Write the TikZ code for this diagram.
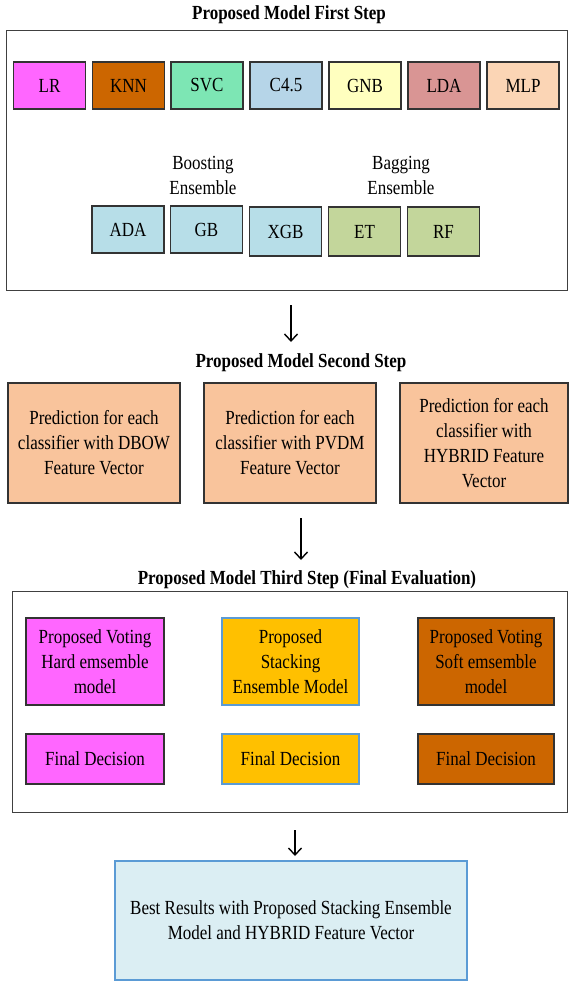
\documentclass[tikz,border=0pt]{standalone}
\usepackage{fontspec}
\setmainfont[FakeStretch=0.85]{Liberation Serif}
\usetikzlibrary{arrows.meta}
\definecolor{cLR}{HTML}{FF66FF}
\definecolor{cKNN}{HTML}{CC6600}
\definecolor{cSVC}{HTML}{7DE6B4}
\definecolor{cCF}{HTML}{B6D5E8}
\definecolor{cGNB}{HTML}{FFFFBF}
\definecolor{cLDA}{HTML}{D99594}
\definecolor{cMLP}{HTML}{FBD5B5}
\definecolor{cBoost}{HTML}{B7DEE8}
\definecolor{cBag}{HTML}{C3D69B}
\definecolor{cPeach}{HTML}{F9C49C}
\definecolor{cStack}{HTML}{FFC000}
\definecolor{cBlueEdge}{HTML}{5B9BD5}
\definecolor{cBest}{HTML}{DBEEF3}
\definecolor{cEdge}{HTML}{333333}
\begin{document}
\begin{tikzpicture}[x=1pt,y=-1pt,
  txt/.style={font=\fontsize{20}{25}\selectfont, align=center, inner sep=0pt},
  ttl/.style={font=\fontsize{20}{25}\selectfont\bfseries, inner sep=0pt},
  clf/.style={txt, draw=cEdge, line width=1.2pt, minimum width=72pt, minimum height=47pt},
  bigbox/.style={txt, draw=cEdge, line width=1.2pt},
  framebox/.style={draw=black!75, line width=1pt, inner sep=0pt},
  flow/.style={line width=1.4pt, -{Straight Barb[length=7pt,width=13pt,line width=1.4pt]}}
]
\useasboundingbox (0,0) rectangle (568,981);
\fill[white] (0,0) rectangle (568,981);

% ---------- First step ----------
\node[ttl] (t1) at (289,15) {Proposed Model First Step};
\node[framebox, minimum width=561pt, minimum height=259pt] (frame1) at (286.5,160.5) {};

\node[clf, fill=cLR]  (lr)  at (49.5,85.5) {LR};
\node[clf, fill=cKNN] (knn) at (128.5,85.5) {KNN};
\node[clf, fill=cSVC] (svc) at (207,85.5) {SVC};
\node[clf, fill=cCF]  (cf)  at (286,85.5) {C4.5};
\node[clf, fill=cGNB] (gnb) at (365,85.5) {GNB};
\node[clf, fill=cLDA] (lda) at (444,85.5) {LDA};
\node[clf, fill=cMLP] (mlp) at (523,85.5) {MLP};

\node[txt] (boost) at (203,175.5) {Boosting\\Ensemble};
\node[txt] (bag)   at (401,175.5) {Bagging\\Ensemble};

\node[clf, fill=cBoost] (ada) at (128,229.5) {ADA};
\node[clf, fill=cBoost] (gb)  at (206.5,229.5) {GB};
\node[clf, fill=cBoost, minimum height=49pt] (xgb) at (285.5,231.5) {XGB};
\node[clf, fill=cBag, minimum height=49pt]   (et)  at (364.5,231.5) {ET};
\node[clf, fill=cBag, minimum height=49pt]   (rf)  at (443.5,231.5) {RF};

% ---------- Arrow 1 ----------
\coordinate (a1s) at (291,305);
\coordinate (a1e) at (291,342);
\draw[flow] (a1s) -- (a1e);

% ---------- Second step ----------
\node[ttl] (t2) at (301,363) {Proposed Model Second Step};
\node[bigbox, fill=cPeach, minimum width=172pt, minimum height=120pt] (dbow) at (94,443)
  {Prediction for each\\classifier with DBOW\\Feature Vector};
\node[bigbox, fill=cPeach, minimum width=172pt, minimum height=120pt] (pvdm) at (290,443)
  {Prediction for each\\classifier with PVDM\\Feature Vector};
\node[bigbox, fill=cPeach, minimum width=168pt, minimum height=120pt] (hyb) at (484,443)
  {Prediction for each\\classifier with\\HYBRID Feature\\Vector};

% ---------- Arrow 2 ----------
\coordinate (a2s) at (301,518);
\coordinate (a2e) at (301,560);
\draw[flow] (a2s) -- (a2e);

% ---------- Third step ----------
\node[ttl] (t3) at (307,580) {Proposed Model Third Step (Final Evaluation)};
\node[framebox, minimum width=555pt, minimum height=221pt] (frame3) at (289.5,701.5) {};

\node[bigbox, fill=cLR, minimum width=138pt, minimum height=87pt] (hard) at (95,661.5)
  {Proposed Voting\\Hard emsemble\\model};
\node[bigbox, fill=cStack, draw=cBlueEdge, minimum width=137pt, minimum height=87pt] (stack) at (290.5,661.5)
  {Proposed\\Stacking\\Ensemble Model};
\node[bigbox, fill=cKNN, minimum width=136pt, minimum height=87pt] (soft) at (486,661.5)
  {Proposed Voting\\Soft emsemble\\model};

\node[bigbox, fill=cLR, minimum width=138pt, minimum height=50pt] (fd1) at (95,759) {Final Decision};
\node[bigbox, fill=cStack, draw=cBlueEdge, minimum width=137pt, minimum height=50pt] (fd2) at (290.5,759) {Final Decision};
\node[bigbox, fill=cKNN, minimum width=136pt, minimum height=50pt] (fd3) at (486,759) {Final Decision};

% ---------- Arrow 3 ----------
\coordinate (a3s) at (295,830);
\coordinate (a3e) at (295,856);
\draw[flow] (a3s) -- (a3e);

% ---------- Result ----------
\node[bigbox, fill=cBest, draw=cBlueEdge, minimum width=352pt, minimum height=119pt] (best) at (291,920.5)
  {Best Results with Proposed Stacking Ensemble\\Model and HYBRID Feature Vector};
\end{tikzpicture}
\end{document}
